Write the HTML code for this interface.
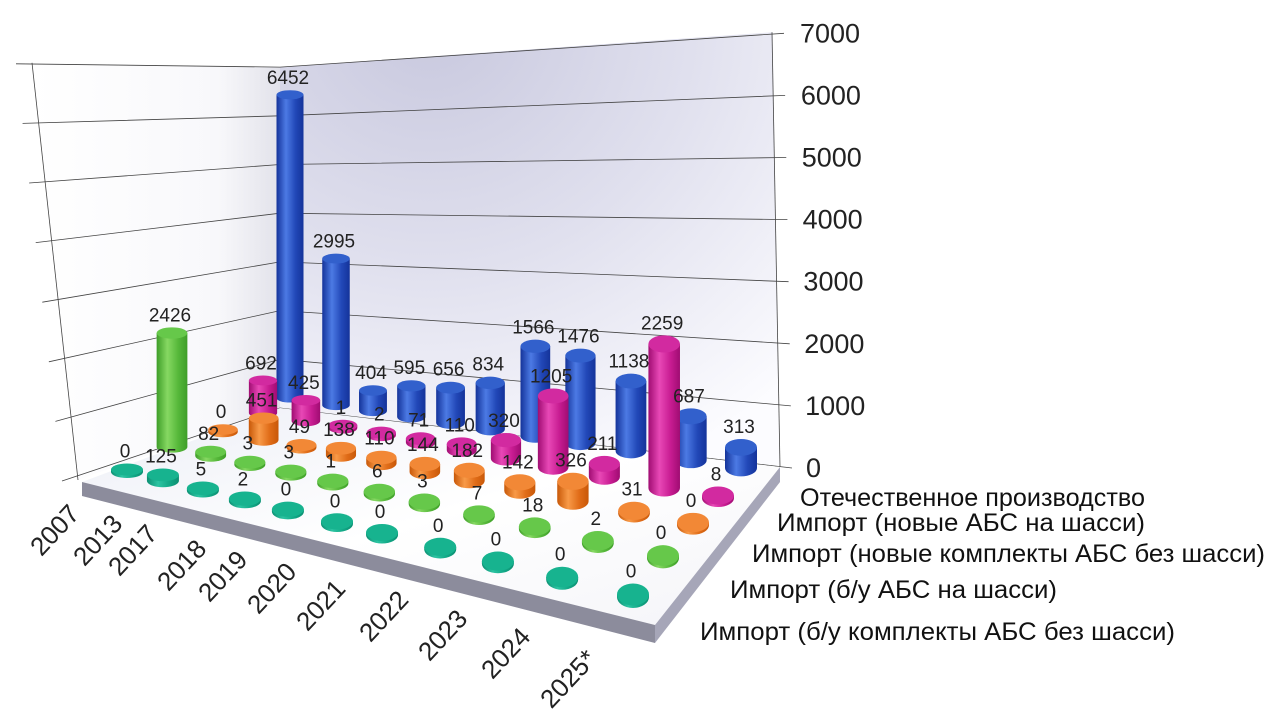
<!DOCTYPE html>
<html><head><meta charset="utf-8"><title>АБС chart</title>
<style>
html,body{margin:0;padding:0;background:#fff;}
svg{display:block;}
text{font-family:"Liberation Sans","DejaVu Sans",sans-serif;}
</style></head>
<body>
<svg id="chart" width="1280" height="724" viewBox="0 0 1280 724" xmlns="http://www.w3.org/2000/svg">
<defs>
<radialGradient id="wallGrad" cx="0.3" cy="0.05" r="1.05">
<stop offset="0" stop-color="#c8c8de"/><stop offset="0.5" stop-color="#e0e0ee"/><stop offset="1" stop-color="#fcfcff"/>
</radialGradient>
<linearGradient id="leftWallGrad" x1="0" y1="0" x2="1" y2="0">
<stop offset="0" stop-color="#ffffff"/><stop offset="0.75" stop-color="#f8f8fb"/><stop offset="1" stop-color="#e2e2ea"/>
</linearGradient>
<linearGradient id="floorGrad" x1="0" y1="0" x2="1" y2="1">
<stop offset="0" stop-color="#eceef6"/><stop offset="0.5" stop-color="#ffffff"/><stop offset="1" stop-color="#f4f4f8"/>
</linearGradient>
</defs>
<g id="walls"></g>
<g id="floor">
<polygon points="82,482 280,408 780,467 655,625" fill="url(#floorGrad)"/>
<polygon points="82,482 655,625 655,643 82,496" fill="#8c8c9c"/>
<polygon points="655,625 780,467 780,482 655,643" fill="#a6a6b8"/>
</g>
<g id="marks"></g>
<g id="labels"></g>
<g id="axis"></g>
<g id="years"></g>
<g id="legend"></g>
</svg>
<script>
// ---- data ----
const years = ["2007","2013","2017","2018","2019","2020","2021","2022","2023","2024","2025*"];
const seriesNames = ["Импорт (б/у комплекты АБС без шасси)","Импорт (б/у АБС на шасси)","Импорт (новые комплекты АБС без шасси)","Импорт (новые АБС на шасси)","Отечественное производство"];
const tealValues    = [0,125,5,2,0,0,0,0,0,0,0];
const greenValues   = [2426,82,3,3,1,6,3,7,18,2,0];
const orangeValues  = [0,451,49,138,110,144,182,142,326,31,0];
const magentaValues = [692,425,1,2,71,110,320,1205,211,2259,8];
const blueValues    = [6452,2995,404,595,656,834,1566,1476,1138,687,313];
const axisTicks = [0,1000,2000,3000,4000,5000,6000,7000];
const tickLabels = ["0","1000","2000","3000","4000","5000","6000","7000"];

const NS="http://www.w3.org/2000/svg";
function mk(tag, attrs, parent){const e=document.createElementNS(NS,tag);for(const k in attrs)e.setAttribute(k,attrs[k]);parent.appendChild(e);return e;}

// ---- projection (layout, not data) ----
const tFront=[0,.071,.15,.233,.318,.415,.504,.619,.733,.86,1];
const tBack =[0,.102,.184,.269,.356,.444,.544,.644,.756,.889,1];
const rowStart=[[127,472],[172,447],[223,432],[263,413],[290,398]];
const rowEnd  =[[633,597],[663,558],[693,525],[718,498],[741,468]];
function tAt(i,s){return tFront[i]*(1-s/4)+tBack[i]*(s/4);}
function basePos(i,s){const t=tAt(i,s);return [rowStart[s][0]+t*(rowEnd[s][0]-rowStart[s][0]),rowStart[s][1]+t*(rowEnd[s][1]-rowStart[s][1])];}
function hScale(v,t){return v*(0.047+0.019*t);}
function yRight(v){return 467-v*0.0621;}
function yCorner(v){return 408-v*0.0487;}
function yLeft(v){return 480-v*0.0596;}
function xLeft(v){return 78-v/7000*46;}

// ---- walls & grid ----
const walls=document.getElementById('walls');
const lw=mk('polygon',{points:`${xLeft(7000)},${yLeft(7000)} 280,${yCorner(7000)} 280,${yCorner(0)} ${xLeft(0)},${yLeft(0)}`,fill:'url(#leftWallGrad)'},walls);


const bw=mk('polygon',{points:`280,0 772,0 780,${yRight(0)} 280,${yCorner(0)}`,fill:'url(#wallGrad)'},walls);


const wt=mk('polygon',{points:`0,0 1280,0 1280,${yRight(7000)-2} 772,${yRight(7000)} 280,${yCorner(7000)} ${xLeft(7000)-20},${yLeft(7000)} 0,${yLeft(7000)}`,fill:'#ffffff'},walls);


axisTicks.forEach((v,k)=>{
  const g=mk('polyline',{points:`${xLeft(v)-16},${yLeft(v)+1} 280,${yCorner(v)} ${772+8*(1-v/7000)+12},${yRight(v)+1}`,fill:'none',stroke:'#444',"stroke-width":'0.8'},walls);
  
  
});
const ledge=mk('line',{x1:xLeft(7000),y1:yLeft(7000),x2:xLeft(0),y2:yLeft(0),stroke:'#444',"stroke-width":'0.8'},walls);


const redge=mk('line',{x1:772,y1:yRight(7000),x2:780,y2:yRight(0),stroke:'#444',"stroke-width":'0.8'},walls);



// ---- axis labels ----
const axis=document.getElementById('axis');
axisTicks.forEach((v,k)=>{
  const t=mk('text',{x:800+6*(1-v/7000),y:yRight(v)+10,"font-size":'27',fill:'#222'},axis);
  t.textContent=tickLabels[k];
  
  
});

// ---- cylinders ----
const palettes=[
 {d:'#0c8f72',m:'#2cc4a2',l:'#12a886',top:'#17b38f'},
 {d:'#3e9e28',m:'#86d862',l:'#56b83a',top:'#66c84a'},
 {d:'#c85808',m:'#f89a48',l:'#e06c18',top:'#f28836'},
 {d:'#a00c72',m:'#e848b6',l:'#c81c92',top:'#d22aa0'},
 {d:'#14339a',m:'#4c7ae4',l:'#2248b8',top:'#3260cc'}];
const defs=document.querySelector('defs');
palettes.forEach((p,s)=>{
  const lg=mk('linearGradient',{id:'cyl'+s,x1:'0',y1:'0',x2:'1',y2:'0'},defs);
  mk('stop',{offset:'0',"stop-color":p.d},lg);
  mk('stop',{offset:'0.35',"stop-color":p.m},lg);
  mk('stop',{offset:'0.7',"stop-color":p.l},lg);
  mk('stop',{offset:'1',"stop-color":p.d},lg);
});
const allSeries=[tealValues,greenValues,orangeValues,magentaValues,blueValues];
const seriesKeys=['teal','green','orange','magenta','blue'];
const marks=document.getElementById('marks');
const labels=document.getElementById('labels');
for(let s=4;s>=0;s--){
  allSeries[s].forEach((v,i)=>{
    const t=tAt(i,s);
    const [cx,by]=basePos(i,s);
    const rx=16-(s/4)*(1-t)*2.5;
    const ry=(6+5*t)*(1-0.06*s);
    const h=Math.max(hScale(v,t),2.5);
    const g=mk('g',{},marks);
    
    
    mk('path',{d:`M${cx-rx},${by-h} L${cx-rx},${by} A${rx},${ry} 0 0 0 ${cx+rx},${by} L${cx+rx},${by-h} Z`,fill:`url(#cyl${s})`},g);
    mk('ellipse',{cx:cx,cy:by-h,rx:rx,ry:ry,fill:palettes[s].top},g);
    const lb=mk('text',{x:cx-2,y:by-h-ry-6,"text-anchor":'middle',"font-size":'19',fill:'#222'},labels);
    lb.textContent=String(v);
    
    
  });
}

// ---- year labels ----
const yearEnds=[[67,502],[110,512],[145,522],[194,537],[235,548],[284,560],[333,577],[396,588],[455,607],[518,625],[584,647]];
const yg=document.getElementById('years');
years.forEach((y,i)=>{
  const [x,yy]=yearEnds[i];
  const t=mk('text',{x:x,y:yy,"text-anchor":'end',"font-size":'26',fill:'#222',transform:`rotate(-47 ${x} ${yy}) translate(0,19)`},yg);
  t.textContent=y;
  
  
});

// ---- series labels ----
const legendPos=[[700,640,475],[730,598,327],[752,562,513],[777,531,368],[800,506,345]];
const lgG=document.getElementById('legend');
seriesNames.forEach((n,s)=>{
  const [x,y,w]=legendPos[s];
  const t=mk('text',{x:x,y:y,"font-size":'25',fill:'#111',textLength:w,lengthAdjust:'spacingAndGlyphs'},lgG);
  t.textContent=n;
  
  
});
</script>
</body></html>
